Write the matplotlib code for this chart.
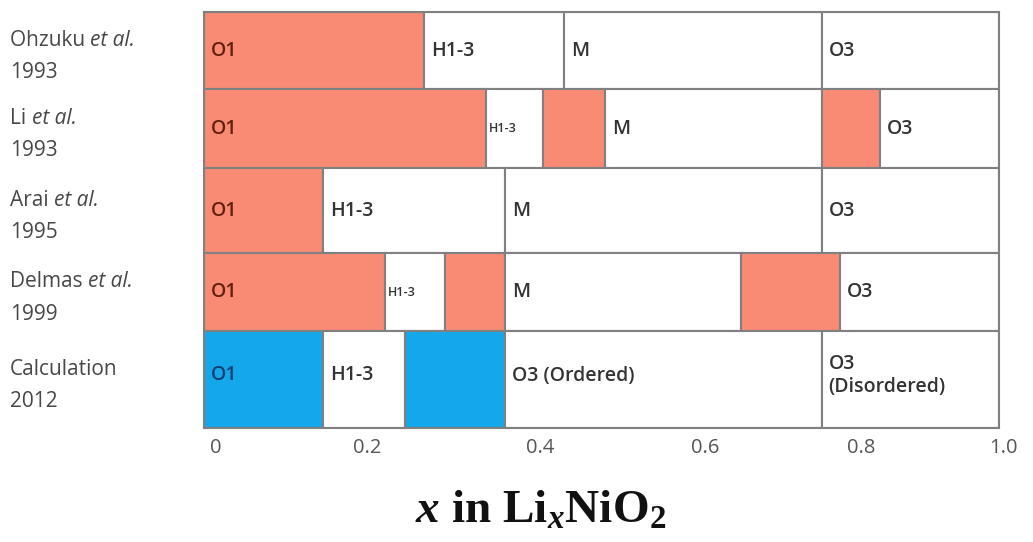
import matplotlib
matplotlib.use("Agg")
import matplotlib.pyplot as plt
from matplotlib.transforms import ScaledTranslation

# ---------------- data ----------------
row_names = ["Ohzuku ", "Li ", "Arai ", "Delmas ", "Calculation"]
row_italic = ["et al.", "et al.", "et al.", "et al.", ""]
row_years = ["1993", "1993", "1995", "1999", "2012"]

# segment boundaries (x in LixNiO2) per row
row_bounds = [
    [0.0, 0.277, 0.453, 0.777, 1.0],
    [0.0, 0.355, 0.427, 0.504, 0.777, 0.850, 1.0],
    [0.0, 0.150, 0.379, 0.777, 1.0],
    [0.0, 0.228, 0.303, 0.379, 0.675, 0.800, 1.0],
    [0.0, 0.150, 0.253, 0.379, 0.777, 1.0],
]
# phase kind per segment: 'r' = red, 'b' = blue, 'w' = white
row_kinds = [
    ["r", "w", "w", "w"],
    ["r", "w", "r", "w", "r", "w"],
    ["r", "w", "w", "w"],
    ["r", "w", "r", "w", "r", "w"],
    ["b", "w", "b", "w", "w"],
]
row_labels = [
    ["O1", "H1-3", "M", "O3"],
    ["O1", "H1-3", "", "M", "", "O3"],
    ["O1", "H1-3", "M", "O3"],
    ["O1", "H1-3", "", "M", "", "O3"],
    ["O1", "H1-3", "", "O3 (Ordered)", "O3\n(Disordered)"],
]
small_labels = {(1, 1), (3, 1)}

xticks = [0, 0.2, 0.4, 0.6, 0.8, 1.0]
xticklabels = ["0", "0.2", "0.4", "0.6", "0.8", "1.0"]

# ---------------- style ----------------
row_heights = [77, 79, 85, 78, 97]
tick_shift_px = [12, 4, 18, 24, 21, 4]
fill = {"r": "#F98B75", "b": "#14A8EA", "w": "#FFFFFF"}
txtc = {"r": "#62200F", "b": "#0E3F72", "w": "#333333"}
edge = "#808080"
sans = ["Open Sans", "DejaVu Sans"]

plt.rcParams["mathtext.fontset"] = "custom"
plt.rcParams["mathtext.rm"] = "Liberation Serif:bold"
plt.rcParams["mathtext.it"] = "Liberation Serif:bold:italic"
plt.rcParams["mathtext.bf"] = "Liberation Serif:bold"

W, H = 1033, 542
fig = plt.figure(figsize=(W / 100, H / 100), dpi=100)
left, right, top, bottom = 204, 999, 12, 428
ax = fig.add_axes([left / W, 1 - bottom / H, (right - left) / W, (bottom - top) / H])

total = sum(row_heights)
ax.set_xlim(0, 1)
ax.set_ylim(total, 0)

y0 = 0
centers = []
for i, (bounds, kinds, labels) in enumerate(zip(row_bounds, row_kinds, row_labels)):
    h = row_heights[i]
    yc = y0 + h / 2
    centers.append(yc)
    for j, k in enumerate(kinds):
        a, b = bounds[j], bounds[j + 1]
        ax.barh(yc, b - a, left=a, height=h, color=fill[k], edgecolor=edge,
                linewidth=1.5, zorder=2)
        lab = labels[j]
        if lab:
            small = (i, j) in small_labels
            dy = 4 if i == 4 else 0
            ax.annotate(lab, xy=(a, yc), xytext=(3 if small else 7, dy),
                        textcoords="offset pixels", ha="left", va="center",
                        fontsize=9 if small else 14, color=txtc[k],
                        family=sans, fontweight="semibold", zorder=3,
                        linespacing=1.2)
    y0 += h

for s in ax.spines.values():
    s.set_color(edge)
    s.set_linewidth(1.5)
    s.set_zorder(4)

ax.set_yticks([])
ax.set_xticks(xticks)
ax.set_xticklabels(xticklabels, family=sans, fontsize=14.5, color="#555555")
ax.tick_params(axis="x", length=0, pad=7)
for lbl, dx in zip(ax.get_xticklabels(), tick_shift_px):
    lbl.set_transform(lbl.get_transform() + ScaledTranslation(dx / 100, 0, fig.dpi_scale_trans))

# row labels on the left
fig.canvas.draw()
renderer = fig.canvas.get_renderer()
for i in range(len(row_names)):
    yc_px = top + centers[i] * (bottom - top) / total + 6
    y1 = 1 - (yc_px - 16) / H
    y2 = 1 - (yc_px + 16) / H
    t = fig.text(10 / W, y1, row_names[i], ha="left", va="center",
                 fontsize=15, color="#474747", family=sans)
    if row_italic[i]:
        bb = t.get_window_extent(renderer)
        fig.text(bb.x1 / W, y1, row_italic[i], ha="left", va="center",
                 fontsize=15, color="#474747", family=sans, style="italic")
    fig.text(10 / W, y2, row_years[i], ha="left", va="center",
             fontsize=15, color="#474747", family=sans)

fig.text(541 / W, 1 - 512 / H, r"$\mathit{x}$ in Li$_\mathit{x}$NiO$_2$",
         ha="center", va="center", fontsize=34, fontweight="bold",
         family="Liberation Serif", color="#111111")

fig.savefig("out.png", dpi=100)
